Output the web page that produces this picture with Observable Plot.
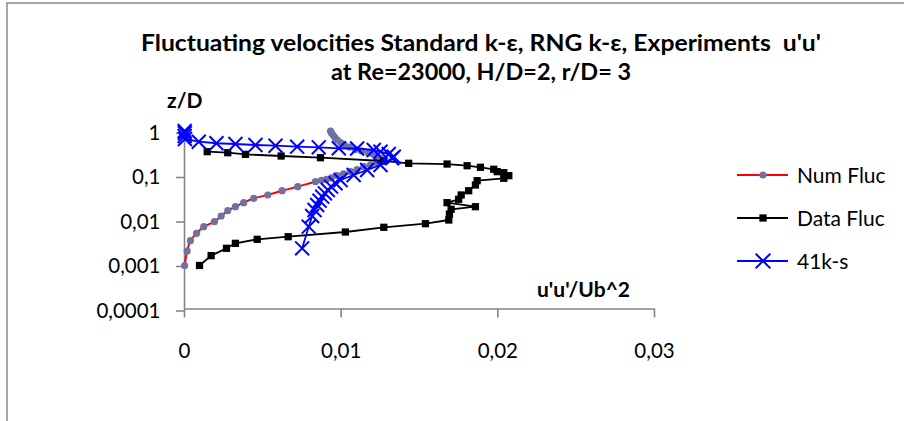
<!DOCTYPE html>
<html>
<head>
<meta charset="utf-8">
<script src="https://cdn.jsdelivr.net/npm/d3@7"></script>
<script src="https://cdn.jsdelivr.net/npm/@observablehq/plot@0.6"></script>
<style>
  html, body { margin: 0; padding: 0; background: #ffffff; }
  svg { display: block; }
</style>
</head>
<body>
<div id="chart"></div>
<script>
// ---- data ----
const titleLines = ["Fluctuating velocities Standard k-\u03b5, RNG k-\u03b5, Experiments  u'u'", "at Re=23000, H/D=2, r/D= 3"];
const xAxisTitle = "u'u'/Ub^2";
const yAxisTitle = "z/D";
const xTicks = [0, 0.01, 0.02, 0.03];
const xTickLabels = ["0", "0,01", "0,02", "0,03"];
const yTicks = [0.0001, 0.001, 0.01, 0.1, 1];
const yTickLabels = ["0,0001", "0,001", "0,01", "0,1", "1"];
const seriesNames = ["Num Fluc", "Data Fluc", "41k-s"];

const numFlucX = [0.00001,0.00017,0.00038,0.00077,0.00123,0.00191,0.00234,0.00276,0.00325,0.00378,0.00442,0.00532,0.00623,0.00723,0.00836,0.00874,0.00906,0.00938,0.00974,0.01015,0.01059,0.01101,0.01144,0.01187,0.0123,0.01257,0.01264,0.01251,0.01232,0.01206,0.01174,0.0113,0.01091,0.01053,0.01021,0.00996,0.00976,0.0096,0.00948,0.00938,0.00932];
const numFlucZ = [0.00095,0.00201,0.00343,0.00502,0.00707,0.00916,0.0123,0.0162,0.0199,0.0245,0.0307,0.0365,0.0455,0.056,0.0726,0.078,0.0822,0.0888,0.1,0.109,0.122,0.136,0.158,0.172,0.188,0.206,0.223,0.241,0.26,0.296,0.32,0.355,0.384,0.437,0.484,0.552,0.628,0.714,0.813,0.902,1.0];

const dataFlucX = [0.00096,0.0017,0.00268,0.00325,0.00464,0.00662,0.01027,0.01272,0.01538,0.01687,0.01691,0.01702,0.01857,0.01676,0.0175,0.01766,0.01814,0.01857,0.01868,0.02038,0.0207,0.02038,0.01996,0.01974,0.01889,0.01804,0.01676,0.01431,0.0127,0.00868,0.00617,0.00389,0.00276,0.00145];
const dataFlucZ = [0.00095,0.00158,0.00231,0.00299,0.00368,0.00421,0.00537,0.00686,0.00826,0.01,0.0136,0.0174,0.0199,0.0245,0.0292,0.0365,0.0455,0.0612,0.0764,0.0865,0.099,0.1156,0.122,0.138,0.153,0.166,0.181,0.188,0.212,0.251,0.274,0.299,0.325,0.343];

const ks41X = [0.00751,0.00793,0.00815,0.0083,0.00847,0.00862,0.00879,0.00896,0.00915,0.00936,0.00964,0.00996,0.0108,0.01166,0.01251,0.01325,0.01336,0.01304,0.01251,0.01208,0.01102,0.00985,0.00857,0.00719,0.00581,0.00453,0.00325,0.00204,0.00091,0.00003,0.00001,0.00002,0.00001];
const ks41Z = [0.00231,0.00708,0.0123,0.0168,0.0217,0.0272,0.0334,0.0397,0.0472,0.0561,0.0667,0.0793,0.1026,0.133,0.172,0.244,0.264,0.304,0.343,0.374,0.404,0.409,0.43,0.444,0.467,0.484,0.51,0.53,0.575,0.66,0.77,0.9,1.0];

// ---- build tables ----
const toRows = (xs, zs) => xs.map((x, i) => ({x, z: zs[i]}));
const numFluc = toRows(numFlucX, numFlucZ);
const dataFluc = toRows(dataFlucX, dataFlucZ);
const ks41 = toRows(ks41X, ks41Z);

const C = {
  num: "#ff0000", numDot: "#6f71a1",
  data: "#000000",
  ks: "#0000ff",
  axis: "#868686"
};
const FONT = "Lato, 'Open Sans', sans-serif";

const chart = Plot.plot({
  width: 904,
  height: 421,
  marginLeft: 184,
  marginRight: 250,
  marginTop: 130.5,
  marginBottom: 112.5,
  style: {fontFamily: FONT, fontSize: "20.5px", color: "black", background: "white", overflow: "visible"},
  x: {domain: [0, 0.03], axis: null},
  y: {type: "log", domain: [0.0001, 1], axis: null},
  marks: [
    Plot.ruleX([0], {stroke: C.axis, strokeWidth: 1.6}),
    Plot.ruleY([0.0001], {stroke: C.axis, strokeWidth: 1.6}),
    Plot.axisX(xTicks, {
      label: null,
      tickSize: 9, tickPadding: 25, stroke: C.axis, strokeWidth: 1.6, fill: "black",
      tickFormat: d => xTickLabels[xTicks.indexOf(d)]
    }),
    Plot.axisY(yTicks, {
      label: null,
      tickSize: 8, tickPadding: 16, stroke: C.axis, strokeWidth: 1.6, fill: "black", dy: 2,
      tickFormat: d => yTickLabels[yTicks.indexOf(d)]
    }),
    // Num Fluc
    Plot.line(numFluc, {x: "x", y: "z", stroke: C.num, strokeWidth: 2, curve: "catmull-rom"}),
    Plot.dot(numFluc, {x: "x", y: "z", r: 3.6, fill: C.numDot, stroke: "none"}),
    // Data Fluc
    Plot.line(dataFluc, {x: "x", y: "z", stroke: C.data, strokeWidth: 1.8}),
    Plot.dot(dataFluc, {x: "x", y: "z", symbol: "square", r: 4.1, fill: C.data, stroke: "none"}),
    // 41k-s
    Plot.line(ks41, {x: "x", y: "z", stroke: C.ks, strokeWidth: 1.8}),
    Plot.dot(ks41, {x: "x", y: "z", symbol: "times", r: 6.4, stroke: C.ks, strokeWidth: 2, fill: "none"})
  ]
});

document.getElementById("chart").appendChild(chart);

const svg = d3.select(chart);

// chart area border (partly visible frame)
svg.append("path")
  .attr("d", "M7,421V3H904")
  .attr("fill", "none")
  .attr("stroke", "#8a8a8a")
  .attr("stroke-width", 1.5);

// title
const title = svg.append("g")
  .attr("font-family", FONT)
  .attr("font-weight", "bold")
  .attr("font-size", 23.5)
  .attr("text-anchor", "middle")
  .attr("fill", "black");
const titleWidths = [680, 300];
const titleBase = [51, 80];
titleLines.forEach((t, i) => {
  title.append("text")
    .attr("x", 481)
    .attr("y", titleBase[i])
    .attr("textLength", titleWidths[i])
    .attr("lengthAdjust", "spacingAndGlyphs")
    .text(t);
});

// axis titles
svg.append("text")
  .attr("x", 167).attr("y", 108)
  .attr("text-anchor", "start")
  .attr("font-family", FONT).attr("font-weight", "bold").attr("font-size", 21)
  .attr("fill", "black")
  .text(yAxisTitle);
svg.append("text")
  .attr("x", 537).attr("y", 297)
  .attr("text-anchor", "start")
  .attr("font-family", FONT).attr("font-weight", "bold").attr("font-size", 21)
  .attr("fill", "black")
  .text(xAxisTitle);

// legend
const legendY = [175, 218, 261];
const legendColors = [C.num, C.data, C.ks];
const leg = svg.append("g").attr("font-family", FONT).attr("font-size", 21)
  .attr("text-anchor", "start").attr("fill", "black");
seriesNames.forEach((name, i) => {
  const y = legendY[i];
  leg.append("line")
    .attr("x1", 737).attr("x2", 788).attr("y1", y).attr("y2", y)
    .attr("stroke", legendColors[i]).attr("stroke-width", 2);
  if (i === 0) {
    leg.append("circle").attr("cx", 763).attr("cy", y).attr("r", 3.6).attr("fill", C.numDot);
  } else if (i === 1) {
    leg.append("path").attr("transform", `translate(763,${y})`)
      .attr("d", d3.symbol(d3.symbolSquare, Math.PI * 4.1 * 4.1)()).attr("fill", C.data);
  } else {
    leg.append("path").attr("transform", `translate(763,${y})`)
      .attr("d", d3.symbol(d3.symbolTimes, Math.PI * 6.8 * 6.8)())
      .attr("fill", "none").attr("stroke", C.ks).attr("stroke-width", 2);
  }
  leg.append("text")
    .attr("x", 797).attr("y", y + 7.5)
    .text(name);
});
</script>
</body>
</html>
